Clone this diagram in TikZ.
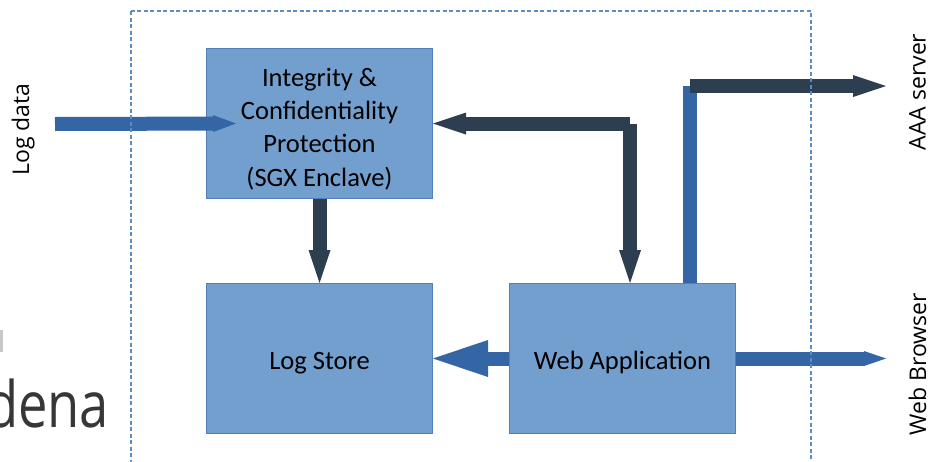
\documentclass[tikz,border=0pt]{standalone}
\usepackage{fontspec}
\setmainfont{Carlito}
\newfontfamily\labelfont{Open Sans}
\usetikzlibrary{arrows.meta,calc}
\definecolor{boxfill}{RGB}{115,159,207}
\definecolor{boxline}{RGB}{82,127,186}
\definecolor{bluec}{RGB}{52,101,164}
\definecolor{darkc}{RGB}{44,62,80}
\definecolor{dashc}{RGB}{91,140,198}
\definecolor{titlec}{RGB}{55,55,55}
\definecolor{fragc}{RGB}{200,200,200}
\begin{document}
\begin{tikzpicture}[x=1pt,y=-1pt,
  box/.style={draw=boxline, fill=boxfill, line width=1pt, minimum width=226pt,
    minimum height=150pt, inner sep=0pt, align=center,
    font=\fontsize{26.5}{33.3}\selectfont},
  lbl/.style={rotate=90, anchor=base, inner sep=0pt,
    font=\labelfont\fontsize{23}{27}\selectfont},
  blueconn/.style={draw=bluec, line width=14pt},
  darkconn/.style={draw=darkc, line width=14pt},
  bigtip/.style={-{Triangle[length=33pt,width=22pt,line width=0pt]}},
  frame/.style={draw=dashc, line width=1.1pt, dash pattern=on 4pt off 2.5pt}]
\useasboundingbox (0,0) rectangle (930,461);
\clip (0,0) rectangle (930,461);

% background slide text fragment
\fill[fragc] (0,330) rectangle (3,352);
\node[anchor=base west, inner sep=0pt, xscale=0.82, text=titlec,
  font=\labelfont\fontsize{64}{70}\selectfont] (dena) at (-14,427) {dena};

% boxes
\node[box] (integ) at (319.5,123.5) {\rule{0pt}{29pt}Integrity \&\\Confidentiality\\Protection\\(SGX Enclave)};
\node[box] (store) at (319.5,358.5) {\rule{0pt}{26pt}Log Store};
\node[box] (web) at (622.5,358.5) {\rule{0pt}{26pt}Web Application};

% side labels
\node[lbl] (ldl) at (29,129.5) {Log data};
\node[lbl] (aaal) at (925.5,92) {AAA server};
\node[lbl] (wbl) at (926,364.5) {Web Browser};

% coordinates
\coordinate (ldstart) at (55,124);
\coordinate (ldend) at ($(integ.west)+(30,0)$);
\coordinate (wtop) at ($(web.north)+(7.5,0)$);
\coordinate (c1) at (wtop |- integ.east);
\coordinate (wtop2) at ($(web.north)+(67.5,0)$);
\coordinate (aaa) at (886,86);
\coordinate (c2) at (wtop2 |- aaa);
\coordinate (wbend) at (web.east -| aaa);

% connectors
\draw[blueconn, -{Triangle[length=23pt,width=17pt,line width=0pt]}] (ldstart) -- (ldend);
\draw[darkconn, bigtip] (integ.south) -- (store.north);
\draw[darkconn, bigtip] (c1) -- (integ.east);
\draw[darkconn, bigtip] (c1) -- (wtop);
\draw[blueconn] (wtop2) -- (c2);
\draw[darkconn, bigtip] (c2) -- (aaa);
\draw[blueconn, -{Triangle[length=22pt,width=15pt,line width=0pt]}] (web.east) -- (wbend);
\draw[blueconn, -{Triangle[length=55pt,width=37pt,line width=0pt]}] (web.west) -- (store.east);

% enclosing dashed frame
\draw[frame] (131,11) rectangle (811,480);
\end{tikzpicture}
\end{document}
